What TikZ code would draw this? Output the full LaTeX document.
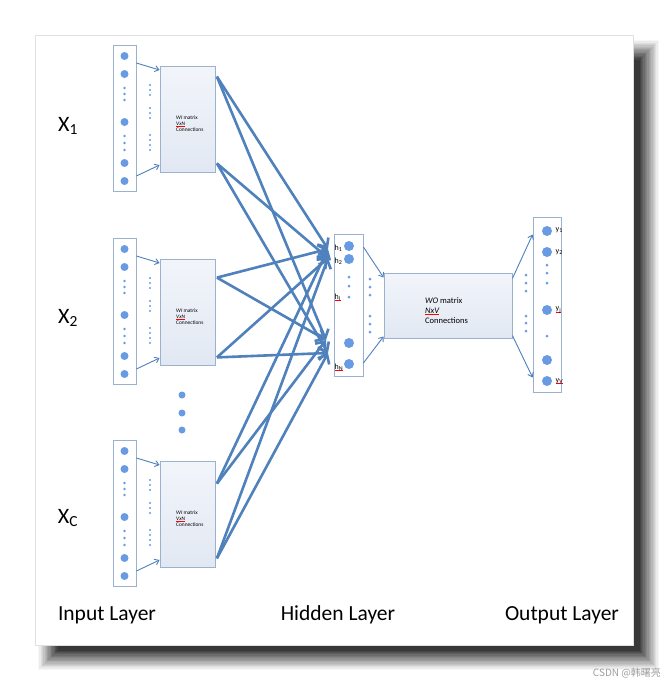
\documentclass[tikz,border=0pt]{standalone}
\usepackage{fontspec}
\setmainfont{Carlito}
\newfontfamily\cjkfont{Noto Sans CJK SC}
\usetikzlibrary{arrows.meta}
\definecolor{linkblue}{RGB}{79,129,189}
\definecolor{dotblue}{RGB}{104,155,226}
\definecolor{boxline}{RGB}{155,178,206}
\definecolor{matfill}{RGB}{226,232,243}
\newcommand{\spellmark}[1]{\setbox0\hbox{#1}\rlap{\color{red}\rule[-1.3pt]{\wd0}{0.35pt}}\box0}

\begin{document}
\begin{tikzpicture}[x=1pt, y=-1pt,
    column/.style={rectangle, draw=boxline, line width=0.8pt, fill=white, inner sep=0pt},
    matrixbox/.style={rectangle, draw=boxline, line width=0.8pt, top color=white!55!matfill, bottom color=matfill, inner sep=0pt},
    matrixtext/.style={align=left, inner sep=0pt, font=\fontsize{5.4}{5.9}\selectfont},
    tag/.style={inner sep=0pt, anchor=west, font=\fontsize{8}{8}\selectfont},
    bigtext/.style={inner sep=0pt, font=\fontsize{21.5}{22}\selectfont},
    thinarrow/.style={draw=linkblue, line width=0.9pt, -{Straight Barb[length=4pt,width=6pt]}},
    wordarrow/.style={draw=linkblue, line width=2.6pt, -{Straight Barb[length=7.5pt,width=13pt]}}
]
    \useasboundingbox (0,0) rectangle (668,681);

    % Sheet and shadow
    \foreach \s in {0,...,15} {
        \pgfmathtruncatemacro{\shade}{3+5*\s}
        \fill[black!\shade] ({38+1.3*\s},{40+1.3*\s}) rectangle ({659-1.3*\s},{670-1.3*\s});
    }
    \fill[white, draw=black!12] (35,35) rectangle (633,645);

    % Input Layer
    \foreach \i/\dy/\ta/\tb in {1/0/11pt/9pt, 2/193/19pt/8pt, 3/395/23pt/9pt} {
        \node[column, minimum width=23, minimum height=146] (in\i) at (124.5,{118+\dy}) {};
        \node[matrixbox, minimum width=55, minimum height=106] (wi\i) at (187.5,{119+\dy}) {};
        \node[matrixtext, anchor=north west] (wt\i) at (176,{115.5+\dy})
            {{\itshape WI} matrix\\\spellmark{\itshape VxN}\\Connections};
        \foreach \d in {-62,-44,4,45,63}
            \fill[dotblue] (124.5,{118+\dy+\d}) circle (4pt);
        \foreach \d in {-30,-24,-18,18,25,32}
            \fill[dotblue] (124.5,{118+\dy+\d}) circle (1.3pt);
        \foreach \d in {-34,-29,-24,-11,-6,-1,16,21,26,31}
            \fill[dotblue] (150,{119+\dy+\d}) circle (1.2pt);
        \draw[thinarrow] ([yshift=55pt]in\i.east) -- ([yshift=49pt]wi\i.west);
        \draw[thinarrow] ([yshift=-58pt]in\i.east) -- ([yshift=-46pt]wi\i.west);
        \coordinate (up\i) at ([xshift=1.5pt, yshift=-\ta]wi\i.north east);
        \coordinate (lo\i) at ([xshift=1.5pt, yshift=\tb]wi\i.south east);
    }
    \foreach \d in {395,413,430}
        \fill[dotblue] (182,\d) circle (3.5pt);

    % Hidden Layer
    \node[column, minimum width=29, minimum height=142] (hid) at (348.5,305) {};
    \foreach \d in {246,259,343,364}
        \fill[dotblue] (349,\d) circle (5pt);
    \foreach \d in {277,286,297}
        \fill[dotblue] (349,\d) circle (1.5pt);
    \node[tag] (h1) at (334.5,248) {h\textsubscript{1}};
    \node[tag] (h2) at (334.5,261) {h\textsubscript{2}};
    \node[tag] (hi) at (334.5,297) {\spellmark{h\textsubscript{i}}};
    \node[tag] (hn) at (334.5,367) {\spellmark{h\textsubscript{N}}};
    \coordinate (hA) at (328,249);
    \coordinate (hB) at (328,258);
    \coordinate (hC) at (326,340);
    \coordinate (hD) at (328,353);

    \foreach \i in {1,2,3} {
        \draw[wordarrow] (up\i) -- (hA);
        \draw[wordarrow] (up\i) -- (hC);
        \draw[wordarrow] (lo\i) -- (hB);
        \draw[wordarrow] (lo\i) -- (hD);
    }

    % WO matrix
    \node[matrixbox, minimum width=128, minimum height=65] (wo) at (448,305.5) {};
    \node[matrixtext, anchor=north west, font=\fontsize{8.5}{9.8}\selectfont] (wotext) at (425,297.5)
        {{\itshape WO} matrix\\\spellmark{\itshape NxV}\\Connections};
    \foreach \d in {279,287,295,316,324,332}
        \fill[dotblue] (370,\d) circle (1.5pt);
    \draw[thinarrow] ([yshift=58pt]hid.east) -- ([yshift=28pt]wo.west);
    \draw[thinarrow] ([yshift=-58pt]hid.east) -- ([yshift=-31pt]wo.west);

    % Output Layer
    \node[column, minimum width=28, minimum height=175] (out) at (547,304.5) {};
    \foreach \d in {231,252,310,360,381}
        \fill[dotblue] (547,\d) circle (5pt);
    \foreach \d in {265,273,283,336}
        \fill[dotblue] (547,\d) circle (1.5pt);
    \foreach \d in {275,283,291,316,323,331}
        \fill[dotblue] (526,\d) circle (1.5pt);
    \node[tag] (y1) at (555.5,230) {y\textsubscript{1}};
    \node[tag] (y2) at (555.5,252) {y\textsubscript{2}};
    \node[tag] (yj) at (555.5,310) {\spellmark{y\textsubscript{j}}};
    \node[tag] (yv) at (555.5,381) {\spellmark{y\textsubscript{V}}};
    \draw[thinarrow] ([yshift=27pt]wo.east) -- ([yshift=70pt]out.west);
    \draw[thinarrow] ([yshift=-30pt]wo.east) -- ([yshift=-73pt]out.west);

    % Labels
    \node[inner sep=0pt, font=\fontsize{22}{22}\selectfont] (x1) at (68,126) {X\textsubscript{1}};
    \node[inner sep=0pt, font=\fontsize{22}{22}\selectfont] (x2) at (68,318) {X\textsubscript{2}};
    \node[inner sep=0pt, font=\fontsize{22}{22}\selectfont] (xc) at (68,518) {X\textsubscript{C}};
    \node[bigtext] (inlab) at (107,615) {Input Layer};
    \node[bigtext] (hidlab) at (338,615) {Hidden Layer};
    \node[bigtext] (outlab) at (562,615) {Output Layer};
    \node[anchor=east, inner sep=0pt, text=black!38, font=\cjkfont\fontsize{10}{10}\selectfont] (mark) at (661,673) {CSDN @韩曙亮};
\end{tikzpicture}
\end{document}
